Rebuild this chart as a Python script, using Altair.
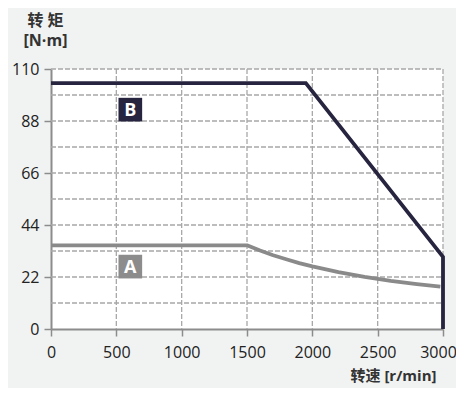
import altair as alt
import pandas as pd

# Data
b_speed = [0, 1950, 3000, 3000]
b_torque = [104, 104, 30.5, 0]
a_speed = [0, 1500, 1600, 1700, 1800, 1900, 2000, 2200, 2400, 2600, 2800, 2980]
a_torque = [35.4, 35.4, 33.2, 31.2, 29.5, 27.9, 26.5, 24.1, 22.1, 20.4, 19.0, 17.9]
x_ticks = [0, 500, 1000, 1500, 2000, 2500, 3000]
y_ticks = [0, 22, 44, 66, 88, 110]
y_grid = [11, 22, 33, 44, 55, 66, 77, 88, 99, 110]
x_grid = [500, 1000, 1500, 2000, 2500, 3000]
labels = ["B", "A"]
label_x = [607, 607]
label_y = [92.8, 26.4]
label_colors = ["#26243f", "#8c8c8c"]

FONT = "Open Sans, Noto Sans CJK SC, sans-serif"

xs = alt.Scale(domain=[0, 3000], nice=False)
ys = alt.Scale(domain=[0, 110], nice=False)

b_df = pd.DataFrame({"speed": b_speed, "torque": b_torque, "o": range(len(b_speed))})
a_df = pd.DataFrame({"speed": a_speed, "torque": a_torque, "o": range(len(a_speed))})
yg_df = pd.DataFrame({"v": y_grid})
xg_df = pd.DataFrame({"v": x_grid})
lab_df = pd.DataFrame({"t": labels, "x": label_x, "y": label_y, "c": label_colors})

x_axis = alt.Axis(
    values=x_ticks, format="d", grid=False, labelFontSize=16, labelColor="#222222", labelFont=FONT,
    domainColor="#8c8c8c", domainWidth=2, tickColor="#8c8c8c", tickWidth=1.5, tickSize=7,
    labelPadding=8, labelFlush=False,
    labelOffset={"condition": {"test": "datum.value == 3000", "value": -5}, "value": 0},
    title="转速 [r/min]", titleFont=FONT, titleFontSize=15, titleFontWeight="bold",
    titleColor="#333333", titleAlign="right", titleAnchor="end", titleX=385, titleY=46,
    titleBaseline="middle",
)
y_axis = alt.Axis(
    values=y_ticks, grid=False, labelFontSize=16, labelColor="#222222", labelFont=FONT,
    domainColor="#8c8c8c", domainWidth=2, tickColor="#8c8c8c", tickWidth=1.5, tickSize=7,
    labelPadding=5,
    title=["转 矩", "[N·m]"], titleFont=FONT, titleFontSize=16, titleFontWeight="bold",
    titleColor="#333333", titleAngle=0, titleAlign="center", titleX=-6, titleY=-57,
    titleBaseline="top", titleLineHeight=20,
)

hgrid = alt.Chart(yg_df).mark_rule(color="#a8a8a8", strokeDash=[5, 2], strokeWidth=1.3).encode(
    y=alt.Y("v:Q", scale=ys, axis=y_axis),
    x=alt.value(0), x2=alt.value(392),
)
vgrid = alt.Chart(xg_df).mark_rule(color="#a8a8a8", strokeDash=[5, 2], strokeWidth=1.3).encode(
    x=alt.X("v:Q", scale=xs, axis=x_axis),
    y=alt.value(0), y2=alt.value(260),
)
line_a = alt.Chart(a_df).mark_line(color="#8a8a8a", strokeWidth=3.8, strokeJoin="round").encode(
    x=alt.X("speed:Q", scale=xs), y=alt.Y("torque:Q", scale=ys), order="o:Q"
)
line_b = alt.Chart(b_df).mark_line(color="#26243f", strokeWidth=3.8, strokeCap="butt").encode(
    x=alt.X("speed:Q", scale=xs), y=alt.Y("torque:Q", scale=ys), order="o:Q"
)
boxes = alt.Chart(lab_df).mark_square(size=560, opacity=1).encode(
    x=alt.X("x:Q", scale=xs), y=alt.Y("y:Q", scale=ys),
    color=alt.Color("c:N", scale=None),
)
texts = alt.Chart(lab_df).mark_text(color="white", fontSize=18, fontWeight="bold", font=FONT, dy=1).encode(
    x=alt.X("x:Q", scale=xs), y=alt.Y("y:Q", scale=ys), text="t:N"
)

chart = alt.layer(hgrid, vgrid, line_a, line_b, boxes, texts).properties(
    width=392, height=260,
    background="#f1f2f2",
    autosize=alt.AutoSizeParams(type="none"),
    padding={"left": 43, "top": 61, "right": 13, "bottom": 59},
).configure_view(fill="white", stroke=None)

chart.save("out.html", embed_options={"renderer": "svg", "actions": False})
